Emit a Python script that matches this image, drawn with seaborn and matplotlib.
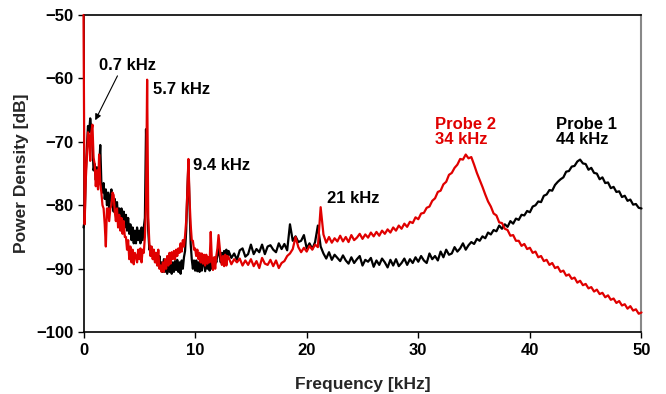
import numpy as np
import pandas as pd
import matplotlib
matplotlib.use("Agg")
import matplotlib.pyplot as plt
import seaborn as sns

# Frequency grids [kHz]: fine below 13 kHz, coarser above
f_lo = np.round(np.arange(0.0, 13.0, 0.1), 2)
f_hi = np.round(np.arange(13.0, 50.01, 0.25), 2)

# Probe 1 power density [dB]
probe1_lo = [
    -83.5, -82.5, -75, -71, -67.5, -68.5, -66.3, -68, -70.5, -74.5,
    -73.5, -76, -74, -76.5, -74, -70.5, -76.5, -78, -76.5, -79,
    -77.5, -80, -78, -80.5, -78.5, -77.5, -80, -81, -79, -81.5,
    -79.5, -82, -80.5, -82.5, -80.5, -83, -81, -83.5, -81.5, -84,
    -82, -84.5, -83, -85.5, -83.5, -86, -84, -86, -83.5, -85.5,
    -84, -86, -83.5, -85.5, -83.5, -82, -68, -77, -84, -87,
    -86.5, -87.5, -87, -88.5, -87.5, -89, -87.5, -89.5, -88, -90,
    -89, -90.5, -88.5, -90.5, -89, -90.8, -89, -90.5, -88.8, -90.8,
    -89, -90.5, -88.8, -90.2, -88.6, -90.5, -89, -90.8, -88.7, -90,
    -88.2, -87.2, -84, -78, -73.3, -80, -86, -88.5, -90, -88.7,
    -90.3, -88.7, -90.4, -89, -90.5, -88.6, -90.3, -89, -88.6, -90.4,
    -88.6, -90, -88.5, -90.3, -88.2, -90, -88.4, -89.6, -88.2, -89,
    -87.8, -86.2, -88, -89, -87.5, -88.8, -87.2, -88.6, -87, -88.5,
]
probe1_hi = [
    -87.2, -88.3, -87.6, -88.6,  # 13
    -87.1, -86.8, -88.1, -87.7,  # 14
    -86.2, -87.7, -86.9, -87.4,  # 15
    -86.2, -87.7, -86.5, -86.3,  # 16
    -87.0, -87.4, -86.0, -86.9,  # 17
    -86.1, -87.1, -83.0, -85.6,  # 18
    -84.9, -85.8, -85.6, -84.7,  # 19
    -86.8, -86.0, -86.9, -85.8,  # 20
    -83.2, -86.5, -87.6, -88.4,  # 21
    -87.4, -88.6, -87.8, -88.3,  # 22
    -88.8, -87.9, -88.7, -89.2,  # 23
    -88.2, -89.1, -88.5, -88.0,  # 24
    -89.5, -88.6, -88.9, -88.3,  # 25
    -89.7, -88.7, -89.4, -88.4,  # 26
    -89.0, -89.8, -88.6, -89.5,  # 27
    -88.5, -89.6, -89.1, -88.4,  # 28
    -89.4, -88.5, -89.1, -88.2,  # 29
    -88.9, -88.0, -88.7, -89.1,  # 30
    -87.6, -88.5, -88.0, -88.7,  # 31
    -87.3, -88.2, -87.0, -87.8,  # 32
    -87.6, -86.6, -87.3, -86.8,  # 33
    -86.0, -87.0, -86.3, -85.8,  # 34
    -86.1, -85.3, -85.6, -84.9,  # 35
    -85.2, -84.3, -84.6, -83.9,  # 36
    -84.1, -83.2, -83.7, -83.0,  # 37
    -83.4, -82.5, -82.9, -82.1,  # 38
    -82.3, -81.5, -81.6, -80.9,  # 39
    -81.1, -80.2, -80.0, -79.4,  # 40
    -79.5, -78.5, -78.3, -77.6,  # 41
    -77.7, -76.8, -76.3, -75.9,  # 42
    -75.6, -74.7, -74.6, -73.9,  # 43
    -73.8, -73.1, -72.8, -73.4,  # 44
    -73.5, -74.4, -74.1, -74.9,  # 45
    -75.0, -75.9, -75.6, -76.5,  # 46
    -76.4, -77.3, -77.1, -77.9,  # 47
    -77.8, -78.7, -78.5, -79.3,  # 48
    -79.1, -79.9, -79.8, -80.4,  # 49
    -80.5,                       # 50
]

# Probe 2 power density [dB]
probe2_lo = [
    -50, -83, -76, -72.5, -68.5, -69, -73, -68.5, -67.3, -72.5,
    -73.5, -77, -74.5, -77.5, -72, -76.5, -78, -80, -80.5, -83,
    -86.5, -80.5, -80.5, -82.5, -80.5, -80, -78, -78.4, -81, -82.5,
    -80.5, -83.5, -81.5, -84, -82, -84.5, -82.5, -85, -85, -87,
    -85.5, -88.5, -86.5, -89, -87, -89.3, -87.5, -88, -89, -87,
    -88.5, -86.8, -89, -87, -87.5, -85, -80, -60.2, -82, -86,
    -88, -86.5, -88.5, -87, -89, -87.5, -89.5, -87, -90, -89.5,
    -90.5, -89, -90.5, -88.5, -90, -88, -89.5, -87.5, -89.2, -87.4,
    -88.5, -87.2, -88.5, -87, -88, -86.8, -87.5, -86, -87.3, -85.5,
    -86.5, -84.8, -82.5, -78, -72.7, -79, -83, -85.5, -85.6, -87,
    -86.8, -88, -87, -88.5, -87.5, -89, -87.6, -89.2, -87.8, -89.5,
    -87.8, -89.2, -88.2, -89, -84.2, -88.6, -90.2, -88.2, -90, -88,
    -86.8, -84.7, -86.5, -88.4, -89.4, -88, -89.6, -87.8, -89.5, -88,
]
probe2_hi = [
    -88.2, -89.3, -88.5, -89.0,  # 13
    -88.4, -89.5, -88.7, -89.4,  # 14
    -88.5, -89.6, -88.8, -89.9,  # 15
    -88.3, -89.2, -89.4, -88.6,  # 16
    -89.6, -88.7, -89.9, -89.1,  # 17
    -88.8, -88.0, -87.6, -86.9,  # 18
    -85.0, -86.6, -87.4, -86.7,  # 19
    -87.3, -86.4, -87.0, -86.2,  # 20
    -86.6, -80.3, -84.6, -85.9,  # 21
    -85.0, -85.9, -85.2, -85.7,  # 22
    -84.8, -85.7, -85.0, -85.8,  # 23
    -84.7, -85.5, -85.1, -84.5,  # 24
    -85.3, -84.6, -85.1, -84.3,  # 25
    -84.9, -84.2, -84.8, -84.0,  # 26
    -84.5, -83.8, -84.3, -83.5,  # 27
    -84.0, -83.2, -83.7, -82.9,  # 28
    -83.4, -82.6, -82.8, -81.9,  # 29
    -82.2, -81.3, -81.2, -80.4,  # 30
    -80.2, -79.3, -78.9, -77.9,  # 31
    -77.7, -76.7, -76.3, -75.2,  # 32
    -74.9, -74.1, -73.6, -72.7,  # 33
    -72.8, -72.0, -72.6, -72.4,  # 34
    -73.6, -74.9, -76.0, -77.1,  # 35
    -78.3, -79.4, -80.2, -81.3,  # 36
    -81.6, -82.7, -82.8, -83.7,  # 37
    -83.9, -84.8, -84.7, -85.6,  # 38
    -85.6, -86.4, -86.1, -86.9,  # 39
    -86.7, -87.5, -87.3, -88.2,  # 40
    -88.0, -88.8, -88.6, -89.4,  # 41
    -89.1, -89.9, -89.7, -90.5,  # 42
    -90.3, -91.1, -90.9, -91.6,  # 43
    -91.4, -92.2, -91.9, -92.6,  # 44
    -92.4, -93.1, -92.9, -93.6,  # 45
    -93.3, -94.0, -93.8, -94.5,  # 46
    -94.2, -94.9, -94.7, -95.4,  # 47
    -95.1, -95.8, -95.6, -96.3,  # 48
    -95.9, -96.6, -96.4, -97.1,  # 49
    -96.9,                       # 50
]

x_ticks = [0, 10, 20, 30, 40, 50]
y_ticks = [-50, -60, -70, -80, -90, -100]

freq = np.concatenate([f_lo, f_hi])
df = pd.concat([
    pd.DataFrame({"freq": freq, "psd": probe1_lo + probe1_hi, "probe": "Probe 1"}),
    pd.DataFrame({"freq": freq, "psd": probe2_lo + probe2_hi, "probe": "Probe 2"}),
], ignore_index=True)

sns.set_style("ticks")
plt.rcParams["font.family"] = ["Liberation Sans", "DejaVu Sans"]
plt.rcParams["font.weight"] = "bold"

RED = "#e00000"
fig = plt.figure(figsize=(6.66, 3.94), dpi=100)
ax = fig.add_axes([0.1254, 0.157, 0.8378, 0.805])

sns.lineplot(data=df, x="freq", y="psd", hue="probe",
             palette={"Probe 1": "black", "Probe 2": RED},
             estimator=None, sort=False, linewidth=1.6, legend=False, ax=ax)
# spectra sit on top of the frame so the DC spike stays visible on the left edge
for ln in ax.get_lines():
    ln.set_zorder(3)
    ln.set_clip_on(False)

ax.set_xlim(0, 50)
ax.set_ylim(-100, -50)
ax.set_xticks(x_ticks)
ax.set_yticks(y_ticks)
ax.tick_params(direction="out", length=4, width=1, labelsize=12, colors="black")
for lab in ax.get_xticklabels() + ax.get_yticklabels():
    lab.set_fontweight("bold")

for side in ["left", "bottom", "top"]:
    ax.spines[side].set_color("black")
    ax.spines[side].set_linewidth(1.2)
ax.spines["right"].set_color("#888888")
ax.spines["right"].set_linewidth(1.5)

ax.set_xlabel("Frequency [kHz]", fontsize=12.5, fontweight="bold", labelpad=14)
ax.set_ylabel("Power Density [dB]", fontsize=12.5, fontweight="bold", labelpad=5)

txt = dict(fontsize=12, fontweight="bold", va="center", ha="left")
ax.annotate("0.7 kHz", xy=(1.05, -66.6), xytext=(1.35, -57.9), color="black",
            arrowprops=dict(arrowstyle="-|>", color="black", lw=0.8,
                            mutation_scale=9, shrinkA=0, shrinkB=0,
                            relpos=(0.36, 0.0)),
            **txt)
ax.text(6.25, -61.8, "5.7 kHz", color="black", **txt)
ax.text(9.85, -73.7, "9.4 kHz", color="black", **txt)
ax.text(21.8, -78.9, "21 kHz", color="black", **txt)
ax.text(31.5, -67.2, "Probe 2", color=RED, **txt)
ax.text(31.5, -69.7, "34 kHz", color=RED, **txt)
ax.text(42.3, -67.2, "Probe 1", color="black", **txt)
ax.text(42.3, -69.7, "44 kHz", color="black", **txt)

fig.savefig("out.png", dpi=100)
